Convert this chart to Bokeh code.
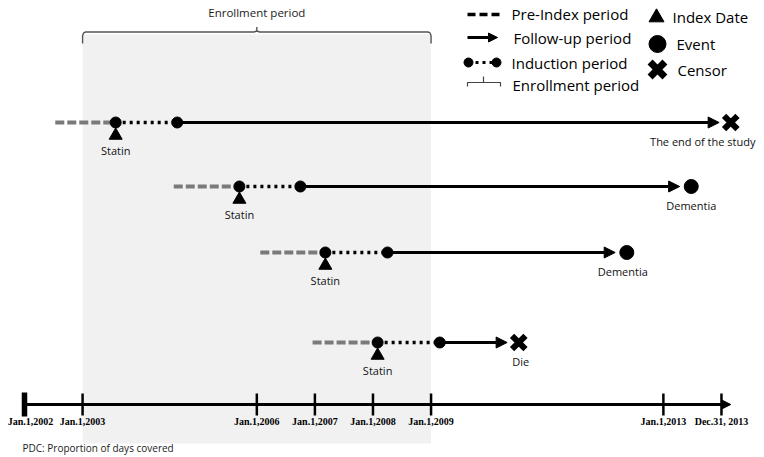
from bokeh.plotting import figure
from bokeh.models import Range1d, ColumnDataSource, Arrow, NormalHead, Label
from bokeh.core.properties import value
from bokeh.embed import file_html
from bokeh.resources import INLINE

# ---------------- data ----------------
exposure_labels = ["Statin", "Statin", "Statin", "Statin"]
pre_index_start = [2002.53, 2004.57, 2006.06, 2006.96]
index_date = [2003.57, 2005.70, 2007.18, 2008.08]
induction_end = [2004.63, 2006.75, 2008.25, 2009.15]
outcome_date = [2014.16, 2013.48, 2012.37, 2010.51]
outcome_kind = ["censor", "event", "event", "censor"]
outcome_labels = ["The end of the study", "Dementia", "Dementia", "Die"]

enroll_start = 2003.0
enroll_end = 2009.0

tick_years = [2002.0, 2003.0, 2006.0, 2007.0, 2008.0, 2009.0, 2013.0, 2014.0]
tick_labels = ["Jan.1,2002", "Jan.1,2003", "Jan.1,2006", "Jan.1,2007",
               "Jan.1,2008", "Jan.1,2009", "Jan.1,2013", "Dec.31, 2013"]

# ---------------- layout ----------------
W, H = 764, 457
SANS = "Open Sans"
SERIF = "Liberation Serif"

row_y = [122, 186, 252, 342]
axis_y = 404

p = figure(width=W, height=H, output_backend="svg", toolbar_location=None,
           x_range=Range1d(2001.5868, 2014.7410), y_range=Range1d(H, 0),
           x_axis_type=None, y_axis_type=None, min_border=0,
           outline_line_color=None, background_fill_color="white",
           border_fill_color="white")
p.title.visible = False
p.grid.visible = False
p.extra_x_ranges = {"px": Range1d(0, W)}

# enrollment shading
p.quad(left=[enroll_start], right=[enroll_end], top=[34], bottom=[443],
       fill_color="#f1f1f1", line_color=None, level="underlay")

# enrollment brace
mid = (enroll_start + enroll_end) / 2
d = 0.05
p.line(x=[enroll_start, enroll_start, enroll_start + d * 0.4, enroll_start + d,
          mid - d, mid, mid, mid, mid + d,
          enroll_end - d, enroll_end - d * 0.4, enroll_end, enroll_end],
       y=[43, 35, 32.3, 31.5, 31.5, 30.5, 26.5, 30.5, 31.5, 31.5, 32.3, 35, 43],
       line_color="#555555", line_width=1.4)
p.add_layout(Label(x=mid, y=12, text="Enrollment period", text_align="center",
                   text_baseline="middle", text_font=SANS, text_font_size="11.5px",
                   text_color="#222222"))

# ---------------- patient rows ----------------
gap = 0.2
src = ColumnDataSource(dict(
    pre=pre_index_start, idx=index_date, ind=induction_end, out=outcome_date,
    arrow_end=[o - gap for o in outcome_date],
    y=row_y, tri_y=[y + 13 for y in row_y], stat_y=[y + 28 for y in row_y],
    lab_y=[y + 19 for y in row_y], lab_dx=[-28, 0, -4, 2],
    stat=exposure_labels, lab=outcome_labels,
))

p.segment(x0="pre", x1="idx", y0="y", y1="y", source=src,
          line_color="#7a7a7a", line_width=4, line_dash="9 3")
p.segment(x0="idx", x1="ind", y0="y", y1="y", source=src,
          line_color="black", line_width=3.5, line_dash="3 4")
p.add_layout(Arrow(x_start="ind", y_start="y", x_end="arrow_end", y_end="y",
                   source=src, line_width=3, line_color="black",
                   end=NormalHead(size=11, fill_color="black", line_color="black")))
p.scatter(x="idx", y="y", source=src, size=11, color="black")
p.scatter(x="ind", y="y", source=src, size=11, color="black")
p.scatter(x="idx", y="tri_y", source=src, marker="triangle", size=13, color="black")
p.text(x="idx", y="stat_y", text="stat", source=src, text_align="center",
       text_baseline="middle", text_font=value(SANS), text_font_size="11px",
       text_color="#111111")
p.text(x="out", y="lab_y", text="lab", x_offset="lab_dx", source=src,
       text_align="center", text_baseline="middle", text_font=value(SANS),
       text_font_size="11px", text_color="#111111")

ev_x = [o for o, k in zip(outcome_date, outcome_kind) if k == "event"]
ev_y = [y for y, k in zip(row_y, outcome_kind) if k == "event"]
ce_x = [o for o, k in zip(outcome_date, outcome_kind) if k == "censor"]
ce_y = [y for y, k in zip(row_y, outcome_kind) if k == "censor"]
p.scatter(x=ev_x, y=ev_y, size=14, color="black")
p.scatter(x=ce_x, y=ce_y, marker="x", size=19, line_width=6, color="black")

# ---------------- time axis ----------------
p.add_layout(Arrow(x_start=tick_years[0], y_start=axis_y, x_end=tick_years[-1] + 0.16,
                   y_end=axis_y, line_width=3, line_color="black",
                   end=NormalHead(size=9, fill_color="black", line_color="black")))
p.segment(x0=tick_years, x1=tick_years, y0=[axis_y - 11] * len(tick_years),
          y1=[axis_y + 11] * len(tick_years), line_color="black", line_width=2.5)
p.segment(x0=tick_years[:1], x1=tick_years[:1], y0=[axis_y - 12], y1=[axis_y + 12],
          line_color="black", line_width=5.5)
lab_off = [6] + [0] * (len(tick_years) - 1)
p.text(x=tick_years, y=[axis_y + 17] * len(tick_years), text=tick_labels,
       x_offset=lab_off, text_align="center", text_baseline="middle",
       text_font=value(SERIF), text_font_style="bold", text_font_size="10px",
       text_color="black")

p.add_layout(Label(x=22, y=447, x_range_name="px", text="PDC: Proportion of days covered",
                   text_align="left", text_baseline="middle", text_font=SANS,
                   text_font_size="10px", text_color="#222222"))

# ---------------- legend ----------------
LEG = dict(x_range_name="px", text_align="left", text_baseline="middle",
           text_font=SANS, text_font_size="15px", text_color="black")
p.line(x=[467, 500], y=[14, 14], x_range_name="px", line_color="black",
       line_width=3.5, line_dash="8 4")
p.add_layout(Label(x=511, y=13, text="Pre-Index period", **LEG))

p.add_layout(Arrow(x_start=467, y_start=37, x_end=497, y_end=37, x_range_name="px",
                   line_width=3, line_color="black",
                   end=NormalHead(size=9, fill_color="black", line_color="black")))
p.add_layout(Label(x=513, y=37, text="Follow-up period", **LEG))

p.line(x=[468, 496], y=[62, 62], x_range_name="px", line_color="black",
       line_width=3, line_dash="3 4")
p.scatter(x=[468, 496], y=[62, 62], x_range_name="px", size=9, color="black")
p.add_layout(Label(x=511, y=62, text="Induction period", **LEG))

p.line(x=[467, 467, 483, 483, 483, 500, 500], y=[86, 82, 82, 76, 82, 82, 86],
       x_range_name="px", line_color="#444444", line_width=1.2)
p.add_layout(Label(x=512, y=84, text="Enrollment period", **LEG))

p.scatter(x=[656], y=[17], x_range_name="px", marker="triangle", size=15, color="black")
p.add_layout(Label(x=672, y=16, text="Index Date", **LEG))
p.scatter(x=[657], y=[43.5], x_range_name="px", size=17, color="black")
p.add_layout(Label(x=676, y=43, text="Event", **LEG))
p.scatter(x=[657], y=[69], x_range_name="px", marker="x", size=21, line_width=7,
          color="black")
p.add_layout(Label(x=677, y=69, text="Censor", **LEG))

open("out.html", "w").write(file_html(p, INLINE))
